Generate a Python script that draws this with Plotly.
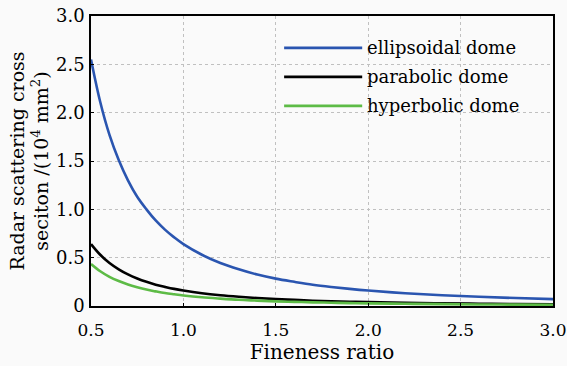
import plotly.graph_objects as go

fineness = [0.5, 0.55, 0.6, 0.65, 0.7, 0.75, 0.8, 0.85, 0.9, 0.95, 1.0, 1.1, 1.2, 1.3, 1.4,
            1.5, 1.6, 1.7, 1.8, 1.9, 2.0, 2.2, 2.4, 2.6, 2.8, 3.0]
ellipsoidal = [2.55, 2.11, 1.77, 1.51, 1.30, 1.13, 1.00, 0.885, 0.79, 0.71, 0.64, 0.53, 0.445, 0.38, 0.325,
               0.283, 0.25, 0.22, 0.197, 0.177, 0.16, 0.132, 0.111, 0.095, 0.082, 0.071]
parabolic = [0.64, 0.53, 0.445, 0.38, 0.327, 0.285, 0.25, 0.221, 0.198, 0.177, 0.16, 0.132, 0.111, 0.095, 0.082,
             0.071, 0.063, 0.055, 0.049, 0.044, 0.04, 0.033, 0.028, 0.024, 0.02, 0.018]
hyperbolic = [0.435, 0.36, 0.302, 0.258, 0.222, 0.194, 0.17, 0.151, 0.134, 0.121, 0.109, 0.09, 0.076, 0.064, 0.056,
              0.048, 0.043, 0.038, 0.034, 0.030, 0.027, 0.023, 0.019, 0.016, 0.014, 0.012]

series_names = ["ellipsoidal dome", "parabolic dome", "hyperbolic dome"]
series_colors = ["#2a55b0", "#000000", "#5dbb46"]

x_ticks = [0.5, 1.0, 1.5, 2.0, 2.5, 3.0]
x_ticktext = ["0.5", "1.0", "1.5", "2.0", "2.5", "3.0"]
y_ticks = [0, 0.5, 1.0, 1.5, 2.0, 2.5, 3.0]
y_ticktext = ["0", "0.5", "1.0", "1.5", "2.0", "2.5", "3.0"]

FONT = "DejaVu Serif"

fig = go.Figure()
for name, ys, col in zip(series_names, [ellipsoidal, parabolic, hyperbolic], series_colors):
    fig.add_trace(go.Scatter(x=fineness, y=ys, mode="lines", name=name,
                             line=dict(color=col, width=2.6, shape="spline", smoothing=1.0),
                             showlegend=False))

# manual legend (long line samples like the original)
leg_y = [0.890, 0.790, 0.690]
for name, col, yy in zip(series_names, series_colors, leg_y):
    fig.add_shape(type="line", xref="paper", yref="paper", x0=0.418, x1=0.587, y0=yy, y1=yy,
                  line=dict(color=col, width=2.6))
    fig.add_annotation(xref="paper", yref="paper", x=0.594, y=yy, text=name, showarrow=False,
                       xanchor="left", yanchor="middle", font=dict(family=FONT, size=18, color="black"))

fig.update_layout(
    width=567, height=366,
    margin=dict(l=91, r=14, t=16, b=60, autoexpand=False),
    paper_bgcolor="#fafafa", plot_bgcolor="#fafafa",
    font=dict(family=FONT, size=17, color="black"),
    xaxis=dict(range=[0.5, 3.0], tickvals=x_ticks, ticktext=x_ticktext, automargin=False,
               showgrid=True, gridcolor="#c0c0c0", griddash="dot", gridwidth=1,
               showline=True, linecolor="black", linewidth=1.5, mirror=True,
               ticks="inside", ticklen=3, tickcolor="black", zeroline=False,
               ticklabelstandoff=8, tickfont=dict(family=FONT, size=17),
               title=dict(text="Fineness ratio", font=dict(family=FONT, size=20), standoff=3)),
    yaxis=dict(range=[0, 3.0], tickvals=y_ticks, ticktext=y_ticktext, automargin=False,
               showgrid=True, gridcolor="#c0c0c0", griddash="dot", gridwidth=1,
               showline=True, linecolor="black", linewidth=1.5, mirror=True,
               ticks="inside", ticklen=3, tickcolor="black", zeroline=False,
               ticklabelstandoff=1, tickfont=dict(family=FONT, size=18),
               title=dict(text="Radar scattering cross<br>seciton /(10<sup>4</sup> mm<sup>2</sup>)",
                          font=dict(family=FONT, size=19), standoff=2)),
)

fig.write_html("out.html", config={"displayModeBar": False},
               post_script="document.body.style.margin='0';document.body.style.overflow='hidden';")
